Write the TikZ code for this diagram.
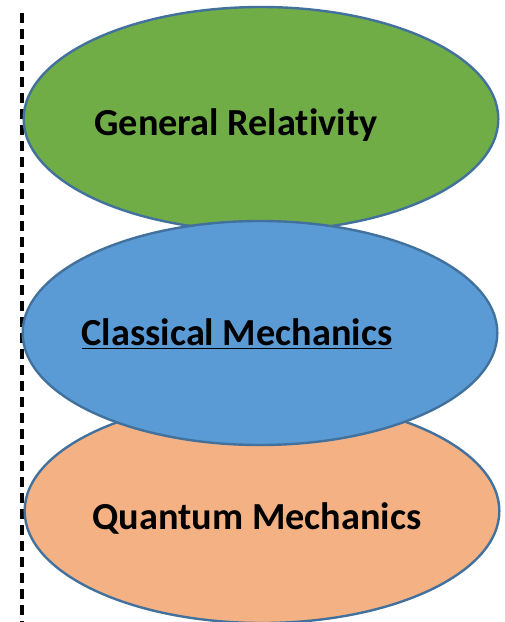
\documentclass[tikz,border=0pt]{standalone}
\usepackage{fontspec}
\setmainfont[Ligatures=NoCommon]{Carlito}
\usetikzlibrary{shapes.geometric}
\definecolor{grfill}{HTML}{70AD47}
\definecolor{blfill}{HTML}{5B9BD5}
\definecolor{orfill}{HTML}{F4B183}
\definecolor{edge}{HTML}{41719C}
\tikzset{
  blob/.style={ellipse, draw=edge, line width=1.8pt, minimum width=356pt, minimum height=168pt, inner sep=0pt},
  lbl/.style={font=\fontsize{28.7}{32}\selectfont\bfseries, text=black, inner sep=0pt}
}
\begin{document}
\begin{tikzpicture}[x=0.75pt,y=-0.75pt]
\useasboundingbox (0,0) rectangle (505,622);
\coordinate (dtop) at (22,13);
\coordinate (dbot) at (22,622);
\draw[line width=2.4pt, dash pattern=on 7.5pt off 4.5pt] (dtop) -- (dbot);
\node[blob, fill=grfill] (gr) at (261,119) {};
\node[blob, fill=orfill] (qm) at (262,511) {};
\node[blob, fill=blfill] (cm) at (260,333) {};
\node[lbl] (grt) at (236,125) {General Relativity};
\node[lbl] (cmt) at (237,334) {\underline{Classical Mechanics}};
\node[lbl] (qmt) at (257,518) {Quantum Mechanics};
\end{tikzpicture}
\end{document}
